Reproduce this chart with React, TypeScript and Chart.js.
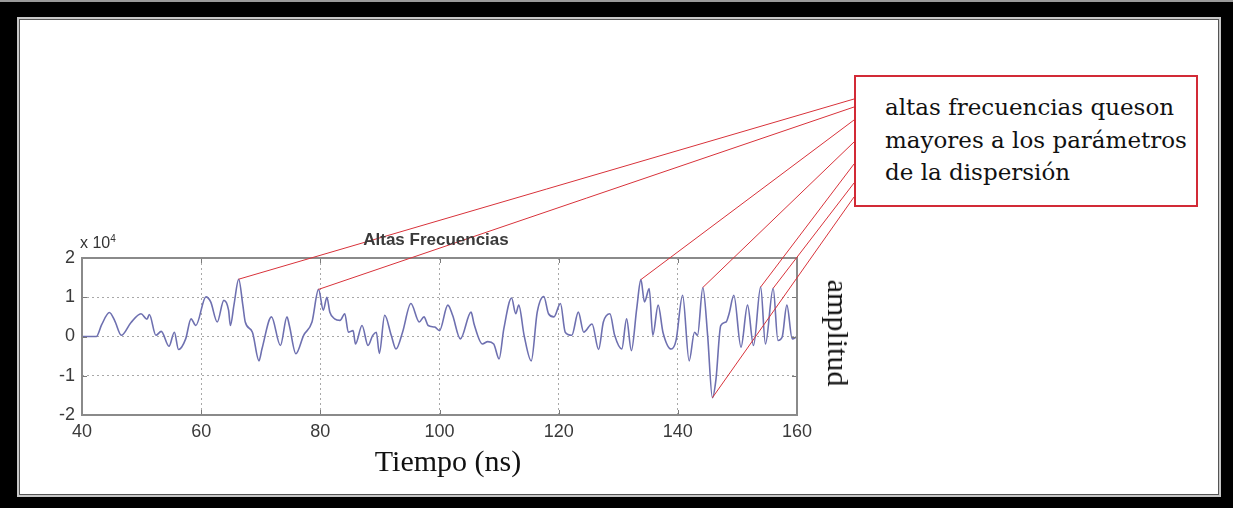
import React, { useEffect, useRef } from 'react';
import { Chart, registerables } from 'chart.js';

Chart.register(...registerables);

// ---- data (amplitude in units of 10^4) ----
const TIME_NS = [
  40, 42.4, 43.3, 44.6, 45.5, 46.6, 48.2, 49.9, 50.9, 51.3, 52.4, 53.3, 54.6, 55.5, 56.2, 57.4, 58.3, 59.1,
  60.8, 61.6, 62.7, 63.8, 64.6, 64.9, 65.5, 66.3, 67.0, 67.4, 68.6, 69.7, 70.2, 71.8, 73.3, 74.4, 74.8, 75.9,
  77.2, 78.6, 79.7, 80.5, 81.1, 81.6, 82.4, 83.3, 84.1, 84.7, 85.5, 85.9, 87.0, 88.0, 88.8, 89.4, 89.9, 90.8,
  91.9, 92.7, 93.8, 95.2, 96.6, 97.4, 98.1, 99.2, 100, 101.4, 102.2, 103.5, 105.3, 105.8, 107.2, 108.1, 109.1,
  110.0, 110.8, 112.1, 112.8, 113.3, 114.2, 115.4, 116.4, 117.5, 118.3, 119.2, 120.3, 121.1, 122.2, 123.3,
  124.2, 125.6, 126.7, 127.5, 128.6, 129.4, 130.6, 131.4, 132.2, 133.1, 133.8, 134.4, 135.2, 135.8, 136.7,
  137.5, 138.9, 139.7, 140.8, 141.9, 142.8, 143.3, 144.2, 145.0, 145.8, 146.4, 147.2, 148.1, 148.6, 149.4,
  150.6, 151.7, 152.7, 153.9, 154.7, 156.0, 156.8, 157.5, 158.3, 159.2, 160,
];
const AMPLITUDE = [
  0, 0, 0.3, 0.61, 0.4, 0.03, 0.35, 0.58, 0.44, 0.56, 0.03, 0.13, -0.25, 0.11, -0.33, -0.06, 0.45, 0.28,
  1.01, 0.88, 0.37, 0.92, 0.67, 0.28, 0.8, 1.46, 0.79, 0.37, 0.11, -0.62, -0.32, 0.5, -0.23, 0.5, 0.28, -0.44,
  0.03, 0.37, 1.2, 0.67, 1.0, 0.62, 0.45, 0.41, 0.58, 0.11, 0.15, -0.19, 0.28, -0.23, 0.03, 0.11, -0.43, 0.54,
  0.03, -0.32, 0.11, 0.84, 0.37, 0.5, 0.28, 0.24, 0.15, 0.8, 0.54, -0.06, 0.62, 0.32, -0.19, -0.13, -0.19,
  -0.57, 0.2, 0.98, 0.58, 0.8, 0.03, -0.62, 0.62, 1.02, 0.58, 0.5, 0.84, 0.11, 0.03, 0.62,
  0.11, 0.32, -0.33, 0.37, 0.58, 0.03, -0.32, 0.45, -0.36, 0.71, 1.45, 0.88, 1.22, 0.03, 0.8,
  0.11, -0.32, -0.1, 1.05, -0.62, 0.11, 0.03, 1.25, 0.03, -1.56, -1.09, 0.28, 0.37, 0.58, 1.05,
  -0.27, 0.8, -0.23, 1.26, -0.19, 1.23, -0.1, -0.02, 0.8, -0.06, 0,
];
const X_TICKS = [40, 60, 80, 100, 120, 140, 160];
const Y_TICKS = [-2, -1, 0, 1, 2];
const Y_EXPONENT = '4';
// peaks pointed at by the callout, in the order of their anchors on the box
const ANNOTATED_TIMES = [66.3, 79.7, 133.8, 144.2, 153.9, 156.0, 145.8];

const TITLE = 'Altas Frecuencias';
const X_LABEL = 'Tiempo (ns)';
const Y_LABEL = 'amplitud';
const NOTE_LINES = ['altas frecuencias queson', 'mayores a los parámetros', 'de la dispersión'];

// ---- layout ----
const W = 1233;
const H = 508;
const PLOT = { left: 82, right: 797, top: 258, bottom: 415 };
const BOX = { left: 854, top: 75, width: 344, height: 132 };
const ANCHOR_Y = [99, 107, 120, 142, 164, 183, 197];

const decorPlugin = {
  id: 'decor',
  afterDraw(chart: any) {
    const { ctx, chartArea: a, scales } = chart;
    const xs = scales.x;
    const ys = scales.y;
    ctx.save();
    // inner tick marks
    ctx.strokeStyle = '#7a7a7a';
    ctx.lineWidth = 1;
    ctx.beginPath();
    X_TICKS.forEach((t) => {
      const px = Math.round(xs.getPixelForValue(t)) + 0.5;
      ctx.moveTo(px, a.bottom);
      ctx.lineTo(px, a.bottom - 5);
      ctx.moveTo(px, a.top);
      ctx.lineTo(px, a.top + 5);
    });
    Y_TICKS.forEach((t) => {
      const py = Math.round(ys.getPixelForValue(t)) + 0.5;
      ctx.moveTo(a.left, py);
      ctx.lineTo(a.left + 5, py);
      ctx.moveTo(a.right, py);
      ctx.lineTo(a.right - 5, py);
    });
    ctx.stroke();
    // plot frame
    ctx.strokeStyle = '#8a8a8a';
    ctx.lineWidth = 2;
    ctx.strokeRect(a.left, a.top, a.right - a.left, a.bottom - a.top);
    // callout leader lines
    ctx.strokeStyle = '#d8323a';
    ctx.lineWidth = 1;
    ANNOTATED_TIMES.forEach((t, i) => {
      let best = 0;
      TIME_NS.forEach((v, j) => {
        if (Math.abs(v - t) < Math.abs(TIME_NS[best] - t)) best = j;
      });
      const px = xs.getPixelForValue(TIME_NS[best]);
      const py = ys.getPixelForValue(AMPLITUDE[best]);
      ctx.beginPath();
      ctx.moveTo(px, py);
      ctx.lineTo(BOX.left, ANCHOR_Y[i]);
      ctx.stroke();
    });
    ctx.restore();
  },
};

export default function App() {
  const ref = useRef<HTMLCanvasElement | null>(null);

  useEffect(() => {
    if (!ref.current) return;
    const tickFont = { family: "'Liberation Sans', Arial, sans-serif", size: 18 };
    const chart = new Chart(ref.current, {
      type: 'line',
      data: {
        datasets: [
          {
            data: TIME_NS.map((t, i) => ({ x: t, y: AMPLITUDE[i] })),
            borderColor: '#6e70b0',
            borderWidth: 1.6,
            pointRadius: 0,
            cubicInterpolationMode: 'monotone',
            fill: false,
          },
        ],
      },
      options: {
        responsive: false,
        animation: false,
        devicePixelRatio: 1,
        layout: {
          padding: { left: 20, top: PLOT.top, right: W - PLOT.right, bottom: H - PLOT.bottom - 30 },
        },
        plugins: { legend: { display: false }, tooltip: { enabled: false }, title: { display: false } },
        scales: {
          x: {
            type: 'linear',
            min: 40,
            max: 160,
            afterFit: (s: any) => {
              s.height = 30;
            },
            afterBuildTicks: (s: any) => {
              s.ticks = X_TICKS.map((v) => ({ value: v }));
            },
            ticks: { font: tickFont, color: '#3a3a3a', padding: 6, maxRotation: 0 },
            grid: { color: '#a8a8a8', drawTicks: false, lineWidth: 1 },
            border: { display: false, dash: [2, 3] },
          },
          y: {
            type: 'linear',
            min: -2,
            max: 2,
            afterFit: (s: any) => {
              s.width = PLOT.left - 20;
            },
            afterBuildTicks: (s: any) => {
              s.ticks = Y_TICKS.map((v) => ({ value: v }));
            },
            ticks: { font: tickFont, color: '#3a3a3a', padding: 7 },
            grid: { color: '#a8a8a8', drawTicks: false, lineWidth: 1 },
            border: { display: false, dash: [2, 3] },
          },
        },
      },
      plugins: [decorPlugin],
    } as any);
    return () => chart.destroy();
  }, []);

  return (
    <div style={{ position: 'fixed', left: 0, top: 0, width: W, height: H, background: '#000', overflow: 'hidden' }}>
      <div style={{ position: 'absolute', left: 0, top: 0, width: W, height: 2, background: '#9a9a9a' }} />
      <div
        style={{
          position: 'absolute',
          left: 17,
          top: 17,
          width: 1204,
          height: 480,
          boxSizing: 'border-box',
          background: '#fff',
          border: '2px solid #c8c8c8',
          boxShadow: 'inset 0 0 0 1px #555',
        }}
      />
      <canvas ref={ref} width={W} height={H} style={{ position: 'absolute', left: 0, top: 0 }} />
      <div
        style={{
          position: 'absolute',
          left: 336,
          top: 231,
          width: 200,
          textAlign: 'center',
          font: "bold 17px 'Liberation Sans', Arial, sans-serif",
          lineHeight: '18px',
          color: '#3a3a3a',
          whiteSpace: 'nowrap',
        }}
      >
        {TITLE}
      </div>
      <div
        style={{
          position: 'absolute',
          left: 80,
          top: 235,
          font: "16px 'Liberation Sans', Arial, sans-serif",
          lineHeight: '16px',
          color: '#333',
          whiteSpace: 'nowrap',
        }}
      >
        x 10<span style={{ fontSize: 10, position: 'relative', top: -6 }}>{Y_EXPONENT}</span>
      </div>
      <div
        style={{
          position: 'absolute',
          left: 298,
          top: 446,
          width: 300,
          textAlign: 'center',
          font: "30px 'Liberation Serif', 'Times New Roman', serif",
          lineHeight: '30px',
          color: '#111',
          whiteSpace: 'nowrap',
        }}
      >
        {X_LABEL}
      </div>
      <div
        style={{
          position: 'absolute',
          left: 838,
          top: 333,
          transform: 'translate(-50%, -50%) rotate(90deg)',
          font: "30px 'Liberation Serif', 'Times New Roman', serif",
          lineHeight: '30px',
          color: '#111',
          whiteSpace: 'nowrap',
        }}
      >
        {Y_LABEL}
      </div>
      <div
        style={{
          position: 'absolute',
          left: BOX.left,
          top: BOX.top,
          width: BOX.width,
          height: BOX.height,
          boxSizing: 'border-box',
          border: '2px solid #d22a36',
          background: '#fff',
          paddingLeft: 29,
          paddingTop: 14,
          font: "23px 'DejaVu Serif', serif",
          lineHeight: '32.5px',
          color: '#111',
          whiteSpace: 'nowrap',
        }}
      >
        {NOTE_LINES.map((l, i) => (
          <div key={i}>{l}</div>
        ))}
      </div>
    </div>
  );
}
